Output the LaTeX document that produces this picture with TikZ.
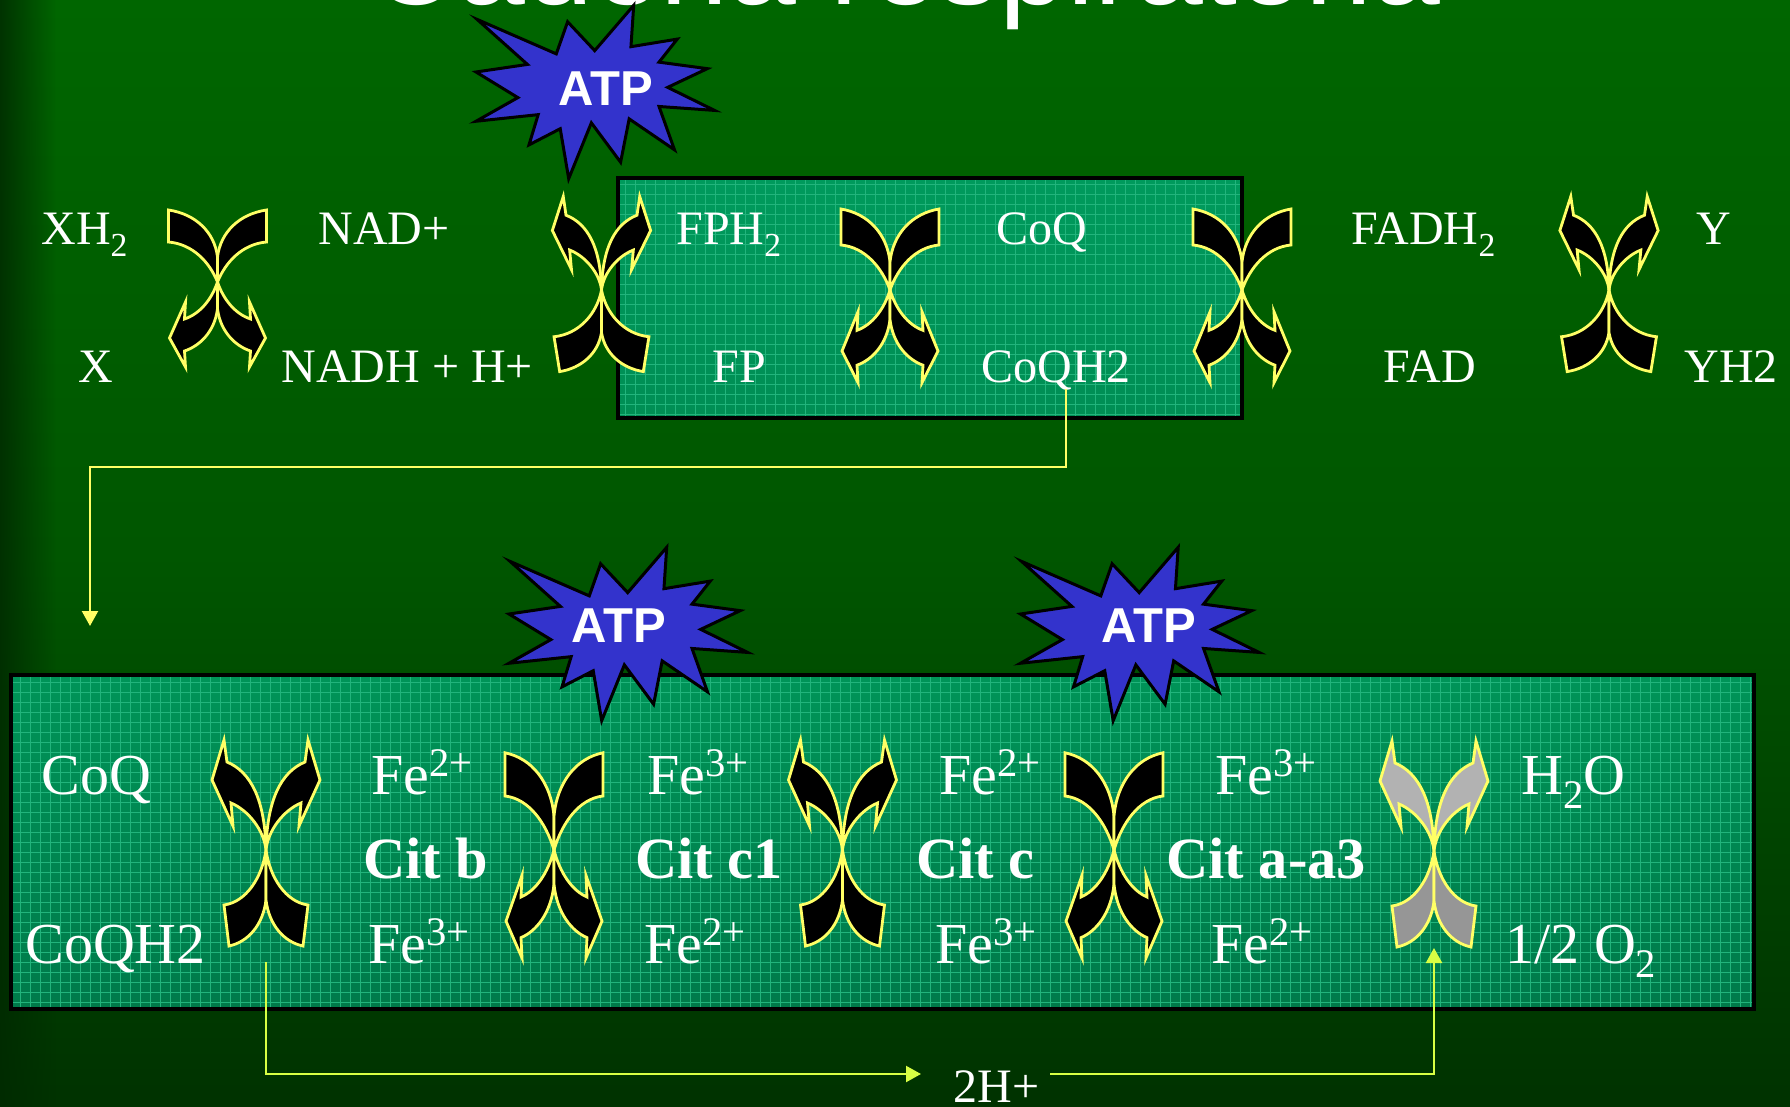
\documentclass[tikz,border=0pt]{standalone}
\usepackage{fontspec}
\usetikzlibrary{arrows.meta,fadings,calc}
\setmainfont{Liberation Serif}
\definecolor{chiline}{HTML}{FFFF66}
\definecolor{limeline}{HTML}{D8FF44}
\definecolor{starblue}{HTML}{3333CC}
\definecolor{gridcol}{HTML}{22B47C}
\definecolor{graytop}{HTML}{B2B2B2}
\definecolor{graybot}{HTML}{969696}
\definecolor{bgtop}{HTML}{006600}
\definecolor{bgmid}{HTML}{005600}
\definecolor{bgbot}{HTML}{003200}
\definecolor{bgedge}{HTML}{002A00}
\definecolor{pAtop}{HTML}{009A5C}
\definecolor{pAbot}{HTML}{008E54}
\definecolor{pBtop}{HTML}{009458}
\definecolor{pBbot}{HTML}{007A4A}
\newcommand\pTopArrow{(0,0) .. controls (-2,-20) and (-18,-40) .. (-35,-47) -- (-33,-24) -- (-54,-70) -- (-42,-110) -- (-39,-88) .. controls (-15,-78) and (-1,-50) .. (0,0) -- cycle}
\newcommand\pBotFlat{(0,0) .. controls (-4,28) and (-20,52) .. (-42,55) -- (-37,96) .. controls (-18,92) and (-3,75) .. (0,50) -- cycle}
\newcommand\pTopFlat{(0,0) -- (0,-25) .. controls (-3,-50) and (-22,-68) .. (-49,-72) -- (-49,-40) .. controls (-25,-38) and (-8,-20) .. (0,0) -- cycle}
\newcommand\pBotArrow{(0,0) .. controls (-6,18) and (-18,32) .. (-33,37) -- (-32,20) -- (-48,56) -- (-32,85) -- (-33,69) .. controls (-18,64) and (-3,50) .. (0,27) -- cycle}
\newcommand\chiTA[8]{% x y tx ty bx by topfill botfill : arrows on top, flat below
  \begin{scope}[shift={(#1,#2)}]
    \foreach \mir in {1,-1}{
      \draw[chipiece,fill=#7,xscale=\mir*#3,yscale=#4] \pTopArrow;
      \draw[chipiece,fill=#8,xscale=\mir*#5,yscale=#6] \pBotFlat;
    }
  \end{scope}}
\newcommand\chiBA[6]{% flat on top, arrows below
  \begin{scope}[shift={(#1,#2)}]
    \foreach \mir in {1,-1}{
      \draw[chipiece,fill=black,xscale=\mir*#3,yscale=#4] \pTopFlat;
      \draw[chipiece,fill=black,xscale=\mir*#5,yscale=#6] \pBotArrow;
    }
  \end{scope}}
\newcommand\starshape{(475.3,18.3) -- (555.7,53.3) -- (567.2,20.7) -- (594.7,50) -- (634.3,4) -- (631.5,46) -- (678.5,38.3) -- (660,61.7) -- (709,68.3) -- (668.8,87.3) -- (716.4,110.7) -- (660,106.7) -- (675.7,150.7) -- (629.7,119.3) -- (621,163.3) -- (591.3,123.3) -- (568.3,180) -- (559.7,129.3) -- (528,145.7) -- (537.3,115) -- (474.2,121.7) -- (516.7,97.7) -- (474.2,71.7) -- (526.4,64) -- cycle}
\newcommand\ssub[1]{\raisebox{-.25em}{\fontsize{.7em}{1em}\selectfont #1}}
\newcommand\ssup[1]{\raisebox{.3em}{\fontsize{.7em}{1em}\selectfont #1}}
\newfontfamily\arialf{Liberation Sans}
\tikzset{
  chipiece/.style={draw=chiline,line width=1.4pt,miter limit=10},
  starpiece/.style={draw=black,line width=1.5pt,fill=starblue,miter limit=10},
  panelbox/.style={draw=black,line width=2pt},
  gridline/.style={draw=gridcol,line width=.5pt},
  toptext/.style={anchor=base west,text=white,inner sep=0pt,font=\fontsize{24}{26}\selectfont},
  lowtext/.style={anchor=base west,text=white,inner sep=0pt,font=\fontsize{29}{32}\selectfont},
  cittext/.style={anchor=base west,text=white,inner sep=0pt,font=\fontsize{29.2}{32}\selectfont\bfseries},
  atptext/.style={anchor=base west,text=white,inner sep=0pt,font=\arialf\fontsize{24.5}{26}\selectfont\bfseries},
  titletext/.style={anchor=base west,text=white,inner sep=0pt,font=\arialf\fontsize{61}{70}\selectfont},
  linkline/.style={draw=chiline,line width=1.1pt,line join=miter},
  limelink/.style={draw=limeline,line width=1.1pt,line join=miter},
  linkhead/.style={-{Triangle[length=7.5pt,width=8pt]}},
  stardraw/.style={shift={(595,92)},scale=.985,shift={(-595,-92)}},
}
\begin{document}
\begin{tikzpicture}[x=.5pt,y=-.5pt]
\useasboundingbox (0,0) rectangle (1790,1107);
\begin{scope}
\clip (0,0) rectangle (1790,1107);
% background
\fill[top color=bgtop,bottom color=bgbot,middle color=bgmid] (0,0) rectangle (1790,1107);
\fill[bgedge,opacity=.85,path fading=east] (0,0) rectangle (56,1107);
% title
\node[titletext] (title) at (369,5) {Cadena respiratoria};
% upper panel
\fill[top color=pAtop,bottom color=pAbot] (618,178) rectangle (1242,418);
\begin{scope}
\clip (618,178) rectangle (1242,418);
\foreach \gx in {625,635,...,1245}{\draw[gridline] (\gx,178) -- (\gx,418);}
\foreach \gy in {185,195,...,415}{\draw[gridline] (618,\gy) -- (1242,\gy);}
\end{scope}
\draw[panelbox] (618,178) rectangle (1242,418);
% lower panel
\fill[top color=pBtop,bottom color=pBbot] (11,675) rectangle (1754,1009);
\begin{scope}
\clip (11,675) rectangle (1754,1009);
\foreach \gx in {20,30,...,1750}{\draw[gridline] (\gx,675) -- (\gx,1009);}
\foreach \gy in {682,692,...,1005}{\draw[gridline] (11,\gy) -- (1754,\gy);}
\end{scope}
\draw[panelbox] (11,675) rectangle (1754,1009);
% glyphs
\chiBA{217.5}{282}{1}{1}{1}{1}
\chiTA{601.5}{290}{.91}{.85}{1.13}{.85}{black}{black}
\chiBA{890}{290}{1}{1.125}{1}{1.09}
\chiBA{1242}{290}{1}{1.125}{1}{1.09}
\chiTA{1609}{290}{.91}{.85}{1.13}{.85}{black}{black}
\chiTA{266}{850}{1}{1}{1}{1}{black}{black}
\chiBA{554}{850}{1}{1.35}{1}{1.27}
\chiTA{842.5}{850}{1}{1}{1}{1}{black}{black}
\chiBA{1114}{850}{1}{1.35}{1}{1.27}
\chiTA{1434}{851}{1}{1}{1}{1}{graytop}{graybot}
% upper texts
\node[toptext] (xh) at (41,245) {XH\ssub{2}};
\node[toptext] (nad) at (318,245) {NAD+};
\node[toptext] (x) at (78,383) {X};
\node[toptext] (nadh) at (281,383) {NADH + H+};
\node[toptext] (fph) at (676,245) {FPH\ssub{2}};
\node[toptext] (fp) at (712,383) {FP};
\node[toptext] (coqa) at (996,245) {CoQ};
\node[toptext] (coqha) at (981,383) {CoQH2};
\node[toptext] (fadh) at (1351,245) {FADH\ssub{2}};
\node[toptext] (fad) at (1383,383) {FAD};
\node[toptext] (y) at (1696,245) {Y};
\node[toptext] (yh) at (1684,383) {YH2};
% lower texts
\node[lowtext] (coqb) at (41,794) {CoQ};
\node[lowtext] (coqhb) at (25,963) {CoQH2};
\node[lowtext] (fea) at (371,794) {Fe\ssup{2+}};
\node[cittext] (citb) at (363,878) {Cit b};
\node[lowtext] (feb) at (368,963) {Fe\ssup{3+}};
\node[lowtext] (fec) at (647,794) {Fe\ssup{3+}};
\node[cittext] (citca) at (635,878) {Cit c1};
\node[lowtext] (fed) at (644,963) {Fe\ssup{2+}};
\node[lowtext] (fee) at (939,794) {Fe\ssup{2+}};
\node[cittext] (citc) at (916,878) {Cit c};
\node[lowtext] (fef) at (935,963) {Fe\ssup{3+}};
\node[lowtext] (feg) at (1215,794) {Fe\ssup{3+}};
\node[cittext] (citaa) at (1166,878) {Cit a-a3};
\node[lowtext] (feh) at (1211,963) {Fe\ssup{2+}};
\node[lowtext] (hoo) at (1521,794) {H\ssub{2}O};
\node[lowtext] (oo) at (1505,963) {1/2 O\ssub{2}};
\node[toptext] (hplus) at (953,1102) {2H+};
% connectors
\coordinate (cqstart) at (1066,389);
\coordinate (cqend) at (90,626);
\coordinate (hstart) at (266,962);
\coordinate (hin) at (921,1074);
\coordinate (hout) at (1050,1074);
\coordinate (hend) at (1434,948);
\draw[linkline,linkhead] (cqstart) -- (1066,467) -- (90,467) -- (cqend);
\draw[limelink,linkhead] (hstart) |- (hin);
\draw[limelink,linkhead] (hout) -| (hend);
% stars
\begin{scope}[stardraw]
\draw[starpiece] \starshape;
\end{scope}
\begin{scope}[shift={(33,542)}]
\begin{scope}[stardraw]
\draw[starpiece] \starshape;
\end{scope}
\end{scope}
\begin{scope}[shift={(544.5,542)}]
\begin{scope}[stardraw]
\draw[starpiece] \starshape;
\end{scope}
\end{scope}
\node[atptext] (atpa) at (558,106) {ATP};
\node[atptext] (atpb) at (571,642) {ATP};
\node[atptext] (atpc) at (1101,642) {ATP};
\end{scope}
\end{tikzpicture}
\end{document}
